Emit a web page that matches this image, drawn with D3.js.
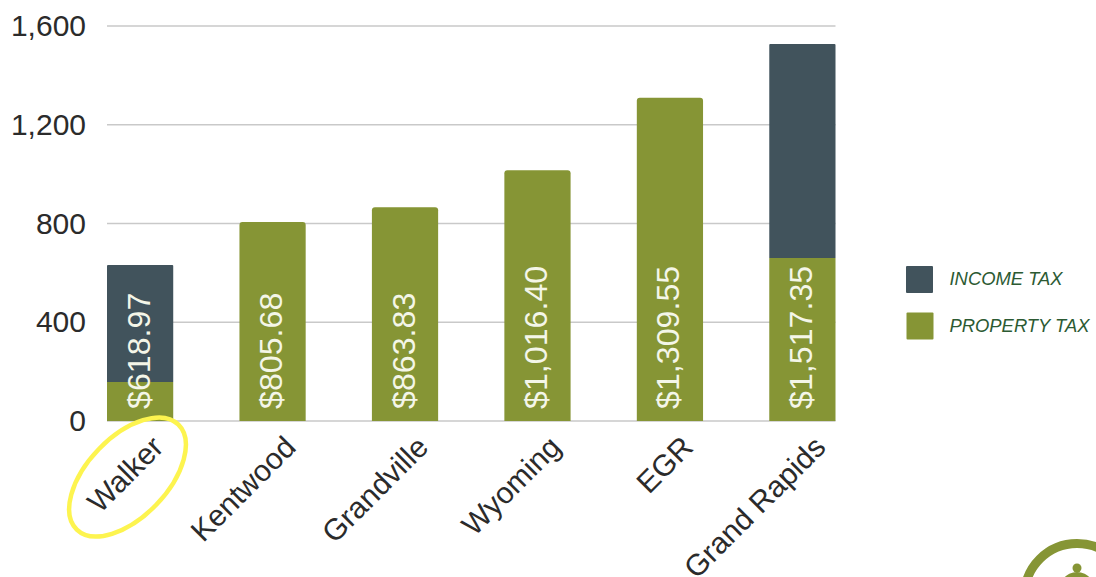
<!DOCTYPE html>
<html>
<head>
<meta charset="utf-8">
<script src="https://cdnjs.cloudflare.com/ajax/libs/d3/7.8.5/d3.min.js"></script>
<style>
  html, body { margin: 0; padding: 0; background: #fff; }
  svg { display: block; font-family: "Liberation Sans", Arial, sans-serif; }
</style>
</head>
<body>
<div id="chart"></div>
<script>
const WIDTH = 1096;
const HEIGHT = 577;

// values
const cities = ['Walker', 'Kentwood', 'Grandville', 'Wyoming', 'EGR', 'Grand Rapids'];
const propertyTax = [158, 806, 866, 1016, 1309, 660];
const incomeTax = [474, 0, 0, 0, 0, 867];
const barLabels = ['$618.97', '$805.68', '$863.83', '$1,016.40', '$1,309.55', '$1,517.35'];
const yTicks = [0, 400, 800, 1200, 1600];
const seriesNames = ['INCOME TAX', 'PROPERTY TAX'];

const GREEN = '#869535';
const SLATE = '#41535c';

const svg = d3.select('#chart').append('svg')
  .attr('width', WIDTH)
  .attr('height', HEIGHT);

const x = d3.scaleBand().domain(cities).range([107, 835.5]).paddingInner(0.5).paddingOuter(0);
const y = d3.scaleLinear().domain([0, 1600]).range([421, 26]);

// Gridlines
svg.append('g').selectAll('line')
  .data(yTicks)
  .join('line')
  .attr('x1', x(cities[0]))
  .attr('x2', 835.5)
  .attr('y1', d => y(d))
  .attr('y2', d => y(d))
  .attr('stroke', '#c9c9c9')
  .attr('stroke-width', 1.6);

// Y axis labels
const yAxis = svg.append('g')
  .attr('transform', `translate(${86},0)`)
  .call(d3.axisLeft(y).tickValues(yTicks).tickFormat(d3.format(',')).tickSize(0).tickPadding(0));
yAxis.select('.domain').remove();
yAxis.selectAll('text')
  .attr('font-family', '"Liberation Sans", Arial, sans-serif')
  .attr('font-size', 30)
  .attr('fill', '#2b2b2b');

// Top-rounded bar path
function barPath(x0, w, yTop, yBottom, r) {
  return `M${x0},${yBottom}V${yTop + r}Q${x0},${yTop} ${x0 + r},${yTop}` +
    `H${x0 + w - r}Q${x0 + w},${yTop} ${x0 + w},${yTop + r}V${yBottom}Z`;
}

const rows = cities.map((c, i) => ({ city: c, prop: propertyTax[i], inc: incomeTax[i], label: barLabels[i] }));

// Stacked bars
svg.append('g').selectAll('path')
  .data(rows)
  .join('path')
  .attr('d', d => barPath(x(d.city), x.bandwidth(), y(d.prop), y(0), d.inc ? 0 : 3))
  .attr('fill', GREEN);

svg.append('g').selectAll('path')
  .data(rows.filter(d => d.inc > 0))
  .join('path')
  .attr('d', d => barPath(x(d.city), x.bandwidth(), y(d.prop + d.inc), y(d.prop), 1))
  .attr('fill', SLATE);

// Vertical value labels
svg.append('g').selectAll('text')
  .data(rows)
  .join('text')
  .attr('transform', d => `translate(${x(d.city) + x.bandwidth() / 2 + 9.5},${y(0) - 12}) rotate(-90)`)
  .attr('font-size', 32.2)
  .attr('fill', '#f4f6e8')
  .text(d => d.label);

// Category labels
svg.append('g').selectAll('text')
  .data(cities)
  .join('text')
  .attr('transform', d => `translate(${x(d) + x.bandwidth() / 2 + 25},${449}) rotate(-45)`)
  .attr('text-anchor', 'end')
  .attr('font-size', 30)
  .attr('fill', '#2b2b2b')
  .text(d => d);

// Yellow hand-drawn highlight round Walker
svg.append('ellipse')
  .attr('transform', 'translate(127.5,477) rotate(-46)')
  .attr('rx', 73)
  .attr('ry', 40)
  .attr('fill', 'none')
  .attr('stroke', '#fdf44f')
  .attr('stroke-width', 4.5);

// Legend
const legend = svg.append('g').selectAll('g')
  .data(seriesNames)
  .join('g')
  .attr('transform', (d, i) => `translate(${906 + i * 0.5},${266 + i * 46.5})`);
legend.append('rect')
  .attr('width', 27)
  .attr('height', 27)
  .attr('rx', 1)
  .attr('fill', (d, i) => (i === 0 ? SLATE : GREEN));
legend.append('text')
  .attr('x', (d, i) => 43.5 - i * 0.5)
  .attr('y', 19)
  .attr('font-size', 18.4)
  .attr('font-style', 'italic')
  .attr('fill', '#2c5a33')
  .text(d => d);

// Cropped logo in the corner
const logo = svg.append('g').attr('transform', 'translate(1077,596)');
logo.append('circle')
  .attr('r', 52.5)
  .attr('fill', 'none')
  .attr('stroke', GREEN)
  .attr('stroke-width', 9);
logo.append('circle').attr('cy', -28).attr('r', 4.5).attr('fill', GREEN);
logo.append('ellipse').attr('rx', 20).attr('ry', 24).attr('fill', GREEN);
</script>
</body>
</html>
